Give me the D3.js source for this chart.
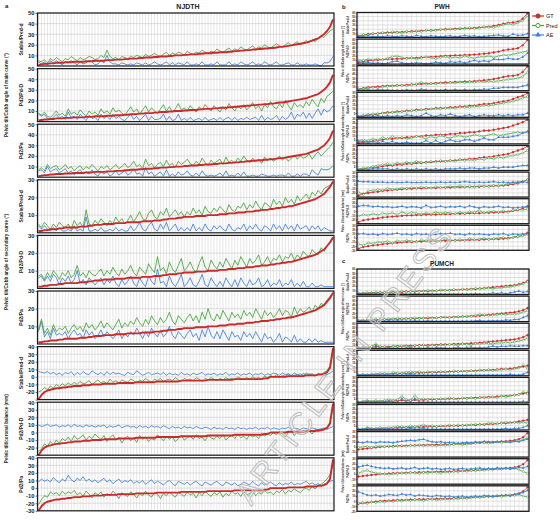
<!DOCTYPE html>
<html><head><meta charset="utf-8">
<script src="https://cdn.jsdelivr.net/npm/d3@7"></script>
<style>body{margin:0;background:#fff}svg{display:block}</style>
</head><body>
<svg id="c" width="560" height="520"></svg>
<script>
// ---------------- labels ----------------
const rowLabels = ["Stable/Pred-d", "Pd2/Pd-D", "Pd2/Pa"];
const groupLabels = ["Pelvic tilt/Cobb angle of main curve (°)", "Pelvic tilt/Cobb angle of secondary curve (°)", "Pelvic tilt/coronal balance (mm)"];
const datasetTitles = ["NJDTH", "PWH", "PUMCH"];
const panelLetters = ["a", "b", "c"];
const legendLabels = ["GT", "Pred", "AE"];

// ---------------- NJDTH ----------------
const njTicks1 = [10,20,30,40,50];
const njTicks2 = [10,20,30];
const njTicks3 = [-30,-20,-10,0,10,20,30,40];
const njGT1 = [1,1.5,2,2,2.5,2.5,3,3,3,3.5,
 3.5,3.5,4,4,4,4,4.5,4.5,4.5,5,
 5,5,5,5.5,5.5,5.5,6,6,6,6.5,
 6.5,7,7,7,7.5,7.5,8,8,8,8.5,
 8.5,9,9,9,9.5,9.5,10,10,10,10.5,
 10.5,11,11,11,11.5,11.5,12,12,12,12.5,
 12.5,13,13,13,13.5,13.5,14,14,14.5,14.5,
 15,15,15.5,15.5,16,16,16.5,16.5,17,17,
 17.5,18,18,18.5,19,19.5,20,20.5,21,21.5,
 22,23,24,25,26,28,30,33,37,44];
const njP11 = [5,4,6,3,7,5,8,6,4,7, 6,9,7,5,8,6,7,9,8,6, 7,10,8,15,9,7,8,6,9,8, 7,9,8,10,9,8,11,9,10,12, 10,9,11,13,10,12,11,13,12,10, 14,12,11,13,12,15,13,12,14,13, 16,14,13,15,17,14,16,15,18,16, 15,17,19,16,18,17,20,18,17,19, 21,19,18,20,22,19,21,23,20,22, 24,22,25,23,26,28,27,30,33,35];
const njA11 = [4,2,4,1,5,3,5,3,1,4, 3,5,3,1,4,2,3,5,4,1, 2,5,3,10,4,2,2,1,3,2, 1,2,1,3,2,1,3,1,2,4, 2,1,2,4,1,3,1,3,2,1, 4,1,1,2,1,4,1,1,2,1, 4,1,1,1,4,1,2,1,4,2, 1,2,4,1,2,1,4,2,1,2, 4,1,1,2,3,1,1,3,1,1, 2,1,1,2,1,0,3,3,4,9];
const njP12 = [8,6,9,5,4,7,10,6,8,5, 12,7,9,6,11,8,5,10,7,9, 6,12,8,10,7,13,9,11,8,6, 10,14,9,12,7,11,15,9,13,10, 8,12,16,10,14,9,12,17,11,13, 10,15,12,9,14,11,16,13,10,15, 12,9,14,11,17,13,10,15,12,16, 11,14,18,12,15,10,16,13,19,14, 12,17,13,20,15,11,18,14,16,13, 19,15,21,17,14,22,18,24,26,29];
const njA12 = [7,5,7,3,2,4,7,3,5,2, 9,4,5,2,7,4,1,6,3,4, 1,7,3,5,2,7,3,5,2,1, 4,7,2,5,1,4,7,1,5,2, 2,3,7,1,5,1,2,7,1,3, 1,4,1,2,3,1,4,1,2,3, 1,4,1,3,4,1,4,1,3,2, 4,2,3,4,1,6,1,4,2,3, 6,1,5,2,4,9,2,7,5,9, 3,8,3,8,12,6,12,9,11,15];
const njP13 = [7,9,6,12,8,10,11,7,9,12, 8,10,6,9,11,7,10,8,12,9, 6,10,8,11,7,9,12,8,10,13, 9,11,15,10,12,8,17,11,13,9, 12,14,10,16,11,13,9,15,12,14, 17,13,11,15,12,18,14,11,16,13, 15,17,12,19,14,16,13,18,15,20, 16,14,18,15,17,13,19,16,18,15, 17,20,16,19,15,18,21,17,20,18, 19,22,17,21,24,20,23,26,29,33];
const njA13 = [6,7,4,10,5,7,8,4,6,8, 4,6,2,5,7,3,5,3,7,3, 1,5,3,5,1,3,6,2,4,6, 2,4,8,3,4,1,9,3,5,1, 3,5,1,7,1,3,1,5,2,3, 6,2,1,4,1,6,2,1,2,1, 2,4,1,6,1,2,1,4,1,5, 1,1,2,1,1,3,2,1,1,2, 1,2,2,1,4,1,1,3,1,3, 3,1,7,4,2,8,7,7,8,11];
const njGT2 = [1,1,1.5,1.5,2,2,2,2.5,2.5,3,
 3,3,3,3,3.5,3.5,3.5,4,4,4.5,
 4.5,4.5,5,5,5,5,5.5,5.5,5.5,5.5,
 6,6,6,6,6,6.5,6.5,6.5,6.5,7,
 7,7,7.5,7.5,8,8,8,8.5,8.5,9,
 9,9,9,9.5,9.5,9.5,9.5,10,10,10,
 10,10.5,10.5,10.5,11,11,11,11.5,11.5,11.5,
 12,12,12,12.5,12.5,13,13,13,13.5,13.5,
 14,14,14.5,14.5,15,15,15.5,16,16.5,17,
 17.5,18,18.5,19,20,21,22,24,26,29];
const njP21 = [5,3,6,4,2,5,3,6,4,3, 5,2,7,4,6,3,13,5,4,7, 5,8,6,4,7,5,9,6,8,5, 7,10,6,9,12,8,7,11,13,9, 8,12,10,14,9,11,13,10,12,9, 12,10,14,11,13,10,15,12,11,14, 12,15,13,11,16,13,12,15,14,17, 13,16,14,18,15,13,17,16,14,19, 16,18,15,20,17,19,16,21,18,20, 22,19,23,21,24,22,25,26,27,28];
const njA21 = [4,2,4,2,1,3,1,3,1,1, 2,1,4,1,2,1,9,1,1,2, 1,3,1,1,2,1,3,1,2,1, 1,4,1,3,6,2,1,4,6,2, 1,5,2,6,1,3,5,1,3,1, 3,1,5,1,3,1,5,2,1,4, 2,4,2,1,5,2,1,3,2,5, 1,4,2,5,2,1,4,3,1,5, 2,4,1,5,2,4,1,5,2,3, 4,1,4,2,4,1,3,2,1,1];
const njP22 = [7,8,5,9,6,10,8,5,9,7, 10,6,8,13,7,9,6,10,8,7, 9,11,7,10,8,12,9,7,11,8, 10,13,9,7,12,10,8,14,11,9, 18,10,12,8,15,11,9,13,17,10, 12,15,11,9,14,18,12,10,16,13, 11,15,12,17,14,11,16,13,18,15, 12,17,14,16,19,13,15,18,14,17, 16,19,15,18,17,20,16,19,17,21, 19,18,22,20,19,23,21,24,26,28];
const njA22 = [6,7,4,7,4,8,6,2,6,4, 7,3,5,10,3,5,2,6,4,2, 4,6,2,5,3,7,3,1,5,2, 4,7,3,1,6,3,1,7,4,2, 11,3,4,1,7,3,1,4,8,1, 3,6,2,1,4,8,2,1,6,3, 1,4,1,6,3,1,5,1,6,3, 1,5,2,3,6,1,2,5,1,3, 2,5,1,3,2,5,1,3,1,4, 1,1,3,1,1,2,1,1,1,1];
const njP23 = [8,14,6,9,5,11,7,9,8,10, 6,9,11,8,10,7,12,9,11,8, 10,13,9,12,10,8,11,14,9,12, 10,13,11,15,12,10,14,11,16,13, 11,15,12,14,18,13,11,16,14,12, 15,17,13,16,12,18,14,20,15,13, 17,14,19,16,13,18,15,17,14,19, 16,18,15,20,17,14,19,16,18,15, 17,20,16,19,18,15,21,17,20,18, 19,21,18,22,20,23,22,25,27,29];
const njA23 = [7,13,4,7,3,9,5,6,5,7, 3,6,8,5,6,3,8,5,7,3, 5,8,4,7,5,3,5,8,3,6, 4,7,5,9,6,3,7,4,9,6, 4,8,4,6,10,5,3,7,5,3, 6,8,4,6,2,8,4,10,5,3, 7,3,8,5,2,7,4,5,2,7, 4,6,3,7,4,1,6,3,4,1, 3,6,1,4,3,1,5,1,3,1, 1,3,1,3,1,2,1,1,1,1];
const njGT3 = [-30,-24,-20,-18,-17,-16,-15,-15,-14,-14,
 -13,-13,-12,-12,-12,-11,-11,-11,-10,-10,
 -10,-10,-9,-9,-9,-9,-9,-8,-8,-8,
 -8,-8,-8,-7,-7,-7,-7,-7,-7,-7,
 -6,-6,-6,-6,-6,-6,-6,-6,-5,-5,
 -5,-5,-5,-5,-5,-5,-5,-4,-4,-4,
 -4,-4,-4,-4,-4,-4,-3,-3,-3,-3,
 -3,-3,-3,-3,-3,-3,-2,-2,0,0,
 0,0,0,0,1,1,1,1,1,1,
 2,2,2,2,3,3,4,6,12,38];
const njP31 = [-20,-18,-14,-17,-12,-15,-10,-13,-9,-12, -8,-11,-7,-10,-6,-9,-8,-5,-10,-7, -4,-8,-6,-9,-3,-7,-5,-8,-4,-6, -7,-3,-5,-8,-4,-6,-2,-5,-7,-3, -5,-2,-6,-4,-3,-5,-1,-4,-6,-2, -4,-3,-5,-1,-3,-6,-2,-4,-1,-3, -5,-2,-4,-1,-3,-2,-4,0,-2,-3, -1,-3,0,-2,-1,-3,1,-1,2,0, 3,-1,2,1,4,0,2,3,1,5, 2,4,3,1,5,3,6,8,15,30];
const njA31 = [7,6,5,7,4,6,3,5,2,6, 4,7,2,6,3,7,4,3,8,5, 3,6,2,7,3,6,4,5,3,2, 6,4,3,8,5,2,4,6,3,4, 5,3,6,2,5,3,4,2,6,3, 4,2,5,3,4,6,2,4,3,5, 2,4,3,6,2,4,3,5,2,4, 3,5,2,4,3,5,2,4,3,5, 4,2,5,3,4,2,5,3,4,2, 5,3,4,2,3,4,2,3,5,8];
const njP32 = [-25,-22,-15,-18,-12,-16,-10,-14,-8,-11, -6,-12,-4,-9,-7,-3,-10,-5,-8,-2, -6,-9,-4,-12,-7,-3,-10,-6,-14,-8, -5,-11,-7,-13,-4,-9,-6,-12,-8,-10, -3,-7,-11,-5,-9,-6,-12,-8,-4,-10, -7,-5,-9,-3,-8,-6,-11,-4,-7,-9, -5,-8,-3,-10,-6,-4,-8,-2,-7,-5, -9,-3,-6,-4,-8,-1,-5,-2,-4,0, -3,1,-2,-6,0,2,-4,1,-1,3, 0,2,-2,4,1,3,5,7,14,32];
const njA32 = [10,8,9,11,8,9,10,7,9,8, 10,7,11,8,9,7,10,8,9,7, 9,8,10,6,9,7,8,10,6,8, 9,7,8,6,9,7,8,6,9,7, 8,6,9,7,5,8,6,7,5,8, 6,7,5,8,6,5,7,6,4,7, 5,6,4,7,5,6,4,7,5,6, 4,6,5,7,4,6,5,7,4,6, 5,4,6,5,7,4,6,5,4,6, 5,4,6,5,4,5,6,4,6,8];
const njP33 = [-22,-15,-10,-12,-5,-8,-6,-10,-4,-8, -5,-7,-3,-9,-6,-11,-4,-8,-13,-6, -9,-5,-12,-7,-10,-4,-8,-14,-6,-9, -11,-5,-8,-13,-7,-10,-4,-9,-12,-6, -8,-14,-7,-10,-5,-9,-12,-6,-8,-11, -5,-9,-7,-13,-6,-10,-4,-8,-11,-6, -9,-5,-12,-7,-10,-4,-8,-6,-11,-5, -9,-7,-4,-10,-6,-8,-3,-7,-5,-9, -4,-6,-2,-8,-3,-5,-1,-4,-6,-2, 0,-3,2,-1,3,5,8,12,18,30];
const njA33 = [8,12,9,11,8,14,10,7,12,9, 17,11,8,13,10,15,9,12,8,11, 7,10,13,8,11,6,9,12,7,10, 8,11,6,9,7,10,5,8,11,6, 9,7,4,8,10,6,3,9,7,5, 8,4,7,9,5,3,8,6,4,7, 9,5,3,8,6,4,7,3,5,8, 6,4,9,5,3,7,4,6,8,5, 3,7,4,6,5,8,4,6,5,7, 9,5,7,4,6,3,5,7,9,10];

// ---------------- PWH ----------------
const pwTicks1 = [0,10,20,30,40,50,60];
const pwTicks2 = [0,5,10,15,20,25,30];
const pwTicks3 = [-30,-20,-10,0,10,20,30];
const pwGT1 = [4,6,8,9,10,11,12,12,13,13, 14,15,15,16,17,17,18,19,20,20, 21,21,22,22,23,24,25,26,28,30, 33,35,36,38,45,58];
const pwP11 = [3,7,6,10,9,12,10,14,12,11, 15,13,16,14,18,16,17,20,18,21, 19,23,20,24,21,22,26,25,24,27, 30,33,31,35,40,52];
const pwA11 = [3,2,4,2,3,2,4,3,2,4, 3,2,5,3,2,4,3,2,3,4, 2,3,5,3,4,2,3,4,5,6, 4,3,8,5,6,9];
const pwP12 = [10,9,12,11,13,10,14,18,20,16, 13,15,12,14,17,15,13,16,18,14, 17,15,19,16,14,18,17,20,16,19, 22,21,24,26,28,32];
const pwA12 = [6,3,4,2,3,1,2,6,7,3, 1,2,3,2,1,2,5,3,2,6, 4,6,3,6,9,6,8,6,12,11, 11,14,12,12,17,26];
const pwP13 = [4,5,6,8,7,9,10,11,12,13, 12,14,16,20,15,17,16,18,17,19, 18,20,19,21,20,22,21,23,22,24, 25,27,28,30,34,44];
const pwA13 = [2,2,3,1,3,2,2,1,1,1, 2,1,1,4,2,1,2,1,3,1, 3,1,3,1,3,2,4,3,6,6, 8,8,8,8,11,14];
const pwGT2 = [1,2,3,3,4,5,6,6,7,7, 8,8,9,9,10,10,11,11,11,12, 12,13,13,14,14,15,16,16,17,18, 19,20,22,24,26,29];
const pwP21 = [1,2,3,4,4,5,5,6,6,7, 7,8,8,9,9,10,10,10,11,11, 11,12,12,12,13,13,14,14,15,16, 17,18,19,21,23,25];
const pwA21 = [1,1,2,1,2,1,2,1,2,1, 3,2,1,2,5,2,1,3,2,4, 2,1,2,3,1,2,3,2,2,3, 2,3,2,3,3,5];
const pwP22 = [4,5,4,6,5,8,6,9,7,8, 6,7,9,8,6,9,7,10,8,7, 9,10,8,9,11,10,9,11,12,10, 11,12,13,14,13,14];
const pwA22 = [3,3,1,3,1,3,1,3,1,1, 2,1,1,1,4,1,4,1,3,5, 3,3,5,5,3,5,7,5,5,8, 8,8,9,10,13,15];
const pwP23 = [2,3,3,5,6,7,8,7,9,8, 10,9,11,10,9,11,10,12,11,12, 11,13,12,13,12,14,13,15,14,16, 15,17,18,19,21,24];
const pwA23 = [1,1,1,2,2,2,2,1,2,1, 2,1,2,1,2,1,2,1,2,2, 2,3,2,3,3,2,3,3,4,3, 4,4,4,5,6,6];
const pwGT3 = [-26,-22,-20,-18,-17,-15,-14,-13,-12,-11, -10,-10,-9,-9,-8,-8,-8,-7,-7,-7, -6,-6,-6,-5,-5,-5,-4,-4,-3,-3, -2,-1,1,3,6,12];
const pwP31 = [-18,-24,-15,-14,-12,-13,-9,-11,-10,-8, -9,-7,-8,-6,-7,-8,-5,-7,-6,-4, -6,-3,-5,-4,-6,-3,-4,-5,-2,-3, 0,2,4,5,8,11];
const pwA31 = [8,7,7,6,6,6,5,6,5,5, 6,5,5,5,6,5,5,6,5,6, 5,6,7,6,5,6,5,6,7,5, 6,5,6,6,7,5];
const pwP32 = [-12,-8,-10,-6,-9,-5,-7,-4,-8,-2, -6,-3,-5,-7,-4,-6,-2,-5,-3,-4, -6,-2,-5,-1,-3,2,-4,-1,0,-2, 1,-3,2,4,3,5];
const pwA32 = [12,14,13,11,12,10,11,9,10,12, 9,11,10,8,14,9,10,12,9,11, 10,12,9,13,10,8,11,9,10,12, 9,10,8,9,10,11];
const pwP33 = [-15,-18,-12,-14,-10,-11,-8,-12,-7,-9, -6,-8,-10,-5,-7,-4,-6,-8,-3,-5, -7,-4,-6,-2,-5,-3,-1,-4,-2,0, 1,-3,2,3,5,8];
const pwA33 = [9,10,8,9,7,10,8,9,11,8, 9,7,10,8,9,7,8,10,9,11, 8,9,7,10,8,9,8,7,9,8, 10,6,9,8,9,10];

// ---------------- PUMCH ----------------
const puTicks1 = [0,10,20,30,40,50,60];
const puTicks2 = [0,5,10,15,20,25,30];
const puTicks3 = [-20,-10,0,10,20,30];
const puGT1 = [2,3,3,4,4,5,5,5,6,6, 6,7,7,7,8,8,8,9,9,10, 10,10,11,11,12,12,13,13,14,15, 16,17,18,19,20,21,22,24,27,32];
const puP11 = [4,2,5,3,6,4,5,7,5,6, 8,6,7,9,7,8,10,8,9,11, 10,9,12,10,13,11,12,15,13,14, 15,13,16,15,18,17,20,22,25,30];
const puA11 = [2,1,2,1,2,1,1,2,1,1, 2,1,1,2,1,1,2,1,1,1, 1,1,1,1,1,1,1,2,1,1, 1,4,2,4,2,4,6,8,5,7];
const puP12 = [3,4,2,5,6,4,5,7,6,8, 7,6,8,9,7,8,10,8,9,10, 11,9,10,12,11,13,12,15,17,16, 14,15,16,17,16,18,17,19,22,26];
const puA12 = [1,1,1,1,2,1,1,2,1,2, 1,1,1,2,1,1,2,1,1,1, 1,1,1,1,1,1,1,2,3,1, 2,2,2,2,4,3,5,5,10,14];
const puP13 = [2,3,4,5,12,4,5,3,6,5, 7,6,5,8,7,9,6,8,7,9, 8,10,9,8,11,10,9,12,11,13, 12,11,14,13,15,14,16,18,20,25];
const puA13 = [1,1,1,1,8,1,1,3,1,2, 1,2,3,1,2,1,3,1,3,2, 2,1,2,4,1,3,4,2,3,2, 4,6,4,6,5,7,6,6,7,7];
const puGT2 = [0.5,1,1,1.5,1.5,2,2,2,2.5,2.5, 3,3,3,3.5,3.5,3.5,4,4,4,4.5, 4.5,5,5,5,5.5,5.5,6,6,6.5,6.5, 7,7,7.5,8,8,8.5,9,10,11,12];
const puP21 = [1,2,1,2,2,3,3,2,4,3, 3,4,5,4,5,3,5,4,5,5, 5,4,6,5,6,5,6,5,7,6, 7,6,7,7,8,7,8,9,13,8];
const puA21 = [1,1,1,1,1,1,1,1,1,1, 1,1,2,1,1,1,1,1,1,1, 1,1,1,1,1,1,1,1,1,1, 1,1,1,1,1,2,1,1,2,4];
const puP22 = [1,2,3,2,3,2,3,4,3,4, 8,4,3,9,4,5,4,5,4,5, 5,6,5,4,6,5,6,5,6,7, 6,7,6,8,7,8,9,10,13,11];
const puA22 = [1,1,2,1,1,1,1,2,1,1, 5,1,1,5,1,1,1,1,1,1, 1,1,1,1,1,1,1,1,1,1, 1,1,1,1,1,1,1,1,2,1];
const puP23 = [1,1,3,2,2,3,2,3,3,4, 4,3,5,4,5,6,5,5,4,5, 5,6,5,6,5,6,6,7,6,7, 8,8,7,8,9,8,9,8,9,8];
const puA23 = [1,1,2,1,1,1,1,1,1,1, 1,1,2,1,1,2,1,1,1,1, 1,1,1,1,1,1,1,1,1,1, 1,1,1,1,2,1,2,2,3,5];
const puGT3 = [-5,-4,-3,-2,-1,0,0.5,1,1.5,2, 2,2.5,3,3,3.5,3.5,4,4,4.5,4.5, 5,5,5.5,6,6,6.5,7,7.5,8,8.5, 9,9.5,10,10.5,11,12,13,15,19,27];
const puP31 = [-1,0,1,-1,1,2,1,2,0,2, 3,1,3,2,4,2,3,3,2,4, 3,4,5,6,4,5,6,7,9,8, 7,8,9,8,10,9,11,12,14,18];
const puA31 = [9,8,10,9,8,10,9,9,8,10, 11,12,13,12,14,15,12,10,9,10, 8,9,8,7,8,9,8,10,9,11, 10,9,10,11,10,9,11,10,13,15];
const puP32 = [2,5,7,4,2,1,0,-1,0,1, 2,1,3,2,1,3,2,4,3,2, 4,3,5,4,6,5,7,6,8,7, 9,8,10,9,11,10,12,8,5,1];
const puA32 = [14,16,17,15,13,12,11,12,10,11, 12,10,11,13,10,11,12,10,11,9, 10,11,9,10,11,9,10,11,12,10, 11,10,12,11,12,10,11,13,12,15];
const puP33 = [-4,-3,-5,-2,-3,-1,-2,0,-1,1, 0,2,1,3,2,1,3,4,2,3, 4,3,5,4,6,5,6,8,7,9, 10,8,11,9,10,12,11,13,10,8];
const puA33 = [18,15,12,11,12,10,11,13,12,11, 14,12,13,10,12,11,10,9,11,10, 9,10,8,9,10,8,9,10,9,11, 10,9,10,11,12,10,13,14,17,21];

// ---------------- drawing ----------------
const FONT = '"Liberation Sans", Arial, Helvetica, sans-serif';
const RED = "#cc2a2a", GREEN = "#44a03a", BLUE = "#3f7fd3";
const svg = d3.select("#c");

function panel(o) {
  const n = o.gt.length;
  const x = d3.scaleLinear().domain([0, n - 1]).range([o.x0 + o.pad, o.x1 - o.pad]);
  const y = d3.scaleLinear().domain(o.domain).range([o.y0 + o.h, o.y0]);
  const g = svg.append("g");
  g.append("rect").attr("x", o.x0).attr("y", o.y0).attr("width", o.x1 - o.x0).attr("height", o.h).attr("fill", "#fff");
  g.append("g").selectAll("line").data(d3.range(n)).join("line")
    .attr("x1", d => x(d)).attr("x2", d => x(d)).attr("y1", o.y0).attr("y2", o.y0 + o.h)
    .attr("stroke", "#d2d2d2").attr("stroke-width", o.vgw);
  g.append("g").selectAll("line").data(o.ticks).join("line")
    .attr("x1", o.x0).attr("x2", o.x1).attr("y1", d => y(d)).attr("y2", d => y(d))
    .attr("stroke", "#cacaca").attr("stroke-width", 0.6);
  const labelVals = o.last ? o.ticks : o.ticks.filter(t => y(t) < o.y0 + o.h - 1);
  const ax = g.append("g").attr("transform", `translate(${o.x0},0)`)
    .call(d3.axisLeft(y).tickValues(o.ticks).tickSize(o.tickLen).tickPadding(o.tickPad)
      .tickFormat(t => labelVals.includes(t) ? t : ""));
  ax.select(".domain").remove();
  ax.selectAll("line").attr("stroke", "#222").attr("stroke-width", 0.6);
  ax.selectAll("text").attr("font-size", o.fs).attr("font-weight", "bold")
    .attr("font-family", FONT).attr("fill", "#222");
  const line = d3.line().x((d, i) => x(i)).y(d => y(d));
  const series = o.markers
    ? [[o.gt, RED, "gt"], [o.pred, GREEN, "pred"], [o.ae, BLUE, "ae"]]
    : [[o.ae, BLUE, "ae"], [o.pred, GREEN, "pred"], [o.gt, RED, "gt"]];
  series.forEach(([data, col, key]) => {
    g.append("path").datum(data).attr("d", line).attr("fill", "none").attr("stroke", col)
      .attr("stroke-width", key === "gt" ? o.gtw : o.lw).attr("stroke-linejoin", "round");
    if (o.markers) {
      if (key === "ae") {
        g.append("g").selectAll("path").data(data).join("path")
          .attr("d", d3.symbol(d3.symbolTriangle, 3.2))
          .attr("transform", (d, i) => `translate(${x(i)},${y(d)})`).attr("fill", col);
      } else {
        g.append("g").selectAll("circle").data(data).join("circle")
          .attr("cx", (d, i) => x(i)).attr("cy", d => y(d)).attr("r", 0.95)
          .attr("fill", key === "gt" ? col : "#fff").attr("stroke", col).attr("stroke-width", 0.45);
      }
    }
  });
  g.append("rect").attr("x", o.x0).attr("y", o.y0).attr("width", o.x1 - o.x0).attr("height", o.h)
    .attr("fill", "none").attr("stroke", "#1c1c1c").attr("stroke-width", o.fw);
  g.append("text").attr("transform", `translate(${o.rlx},${o.y0 + o.h / 2}) rotate(-90)`)
    .attr("text-anchor", "middle").attr("font-size", o.rfs).attr("font-weight", "bold")
    .attr("font-family", FONT).attr("fill", "#222").text(o.rowLabel);
}

function text(x, y, s, fs, anchor) {
  svg.append("text").attr("x", x).attr("y", y).attr("font-size", fs)
    .attr("font-weight", "bold").attr("font-family", FONT).attr("fill", "#222")
    .attr("text-anchor", anchor || "start").text(s);
}
function vtext(x, y, s, fs) {
  svg.append("text").attr("transform", `translate(${x},${y}) rotate(-90)`)
    .attr("text-anchor", "middle").attr("font-size", fs).attr("font-weight", "bold")
    .attr("font-family", FONT).attr("fill", "#222").text(s);
}

const datasets = [
  { groups: [
      { gt: njGT1, domain: [0, 50], ticks: njTicks1, rows: [[njP11, njA11], [njP12, njA12], [njP13, njA13]] },
      { gt: njGT2, domain: [0, 30], ticks: njTicks2, rows: [[njP21, njA21], [njP22, njA22], [njP23, njA23]] },
      { gt: njGT3, domain: [-30, 40], ticks: njTicks3, rows: [[njP31, njA31], [njP32, njA32], [njP33, njA33]] } ],
    x0: 37.5, x1: 334, top: 13, pitch: 55.6, h: 53, markers: false,
    pad: 1, vgw: 0.55, gtw: 1.9, lw: 0.85, fw: 1.2, fs: 5.8, tickLen: 2, tickPad: 1,
    rlx: 23, rfs: 5, glx: 8, gfs: 4.6, title: [188, 9], letter: [5, 8], tfs: 7 },
  { groups: [
      { gt: pwGT1, domain: [0, 60], ticks: pwTicks1, rows: [[pwP11, pwA11], [pwP12, pwA12], [pwP13, pwA13]] },
      { gt: pwGT2, domain: [0, 30], ticks: pwTicks2, rows: [[pwP21, pwA21], [pwP22, pwA22], [pwP23, pwA23]] },
      { gt: pwGT3, domain: [-30, 30], ticks: pwTicks3, rows: [[pwP31, pwA31], [pwP32, pwA32], [pwP33, pwA33]] } ],
    x0: 357, x1: 529, top: 12.5, pitch: 26.6, h: 25, markers: true,
    pad: 1.5, vgw: 0.5, gtw: 0.8, lw: 0.8, fw: 1.3, fs: 2.8, tickLen: 1.2, tickPad: 0.5,
    rlx: 349.3, rfs: 2.8, glx: 344.3, gfs: 2.8, title: [442, 9], letter: [342, 9], tfs: 6.5 },
  { groups: [
      { gt: puGT1, domain: [0, 60], ticks: puTicks1, rows: [[puP11, puA11], [puP12, puA12], [puP13, puA13]] },
      { gt: puGT2, domain: [0, 30], ticks: puTicks2, rows: [[puP21, puA21], [puP22, puA22], [puP23, puA23]] },
      { gt: puGT3, domain: [-20, 30], ticks: puTicks3, rows: [[puP31, puA31], [puP32, puA32], [puP33, puA33]] } ],
    x0: 357, x1: 529, top: 269, pitch: 27.1, h: 25.5, markers: true,
    pad: 1.5, vgw: 0.5, gtw: 0.8, lw: 0.8, fw: 1.3, fs: 2.8, tickLen: 1.2, tickPad: 0.5,
    rlx: 349.3, rfs: 2.8, glx: 344.3, gfs: 2.8, title: [442, 266], letter: [342, 263], tfs: 6.5 }
];

// watermark (drawn beneath titles so they stay readable)
const wm = svg.append("g");

datasets.forEach((ds, di) => {
  ds.groups.forEach((grp, gi) => {
    grp.rows.forEach(([pred, ae], ri) => {
      const k = gi * 3 + ri;
      panel(Object.assign({}, ds, {
        y0: ds.top + k * ds.pitch, gt: grp.gt, pred, ae, domain: grp.domain, ticks: grp.ticks,
        rowLabel: rowLabels[ri], last: k === 8
      }));
    });
    const gy0 = ds.top + gi * 3 * ds.pitch;
    const gy1 = gy0 + 2 * ds.pitch + ds.h;
    vtext(ds.glx, (gy0 + gy1) / 2, groupLabels[gi], ds.gfs);
  });
});

svg.append("text").attr("transform", "translate(347,366) rotate(-53)")
  .attr("text-anchor", "middle").attr("dominant-baseline", "middle")
  .attr("font-size", 31).attr("font-family", FONT).attr("letter-spacing", 3.5)
  .attr("fill", "rgba(255,255,255,0.3)").attr("stroke", "#bdbdbd").attr("stroke-width", 1)
  .text("ARTICLE IN PRESS");

datasets.forEach((ds, di) => {
  text(ds.title[0], ds.title[1], datasetTitles[di], ds.tfs, "middle");
  text(ds.letter[0], ds.letter[1], panelLetters[di], 6, "start");
});

// legend
const leg = svg.append("g").attr("transform", "translate(532,16)");
[[RED, "gt"], [GREEN, "pred"], [BLUE, "ae"]].forEach(([col, key], i) => {
  const yy = i * 9.5;
  leg.append("line").attr("x1", 0).attr("x2", 12).attr("y1", yy).attr("y2", yy).attr("stroke", col).attr("stroke-width", 1.2);
  if (key === "ae") {
    leg.append("path").attr("d", d3.symbol(d3.symbolTriangle, 13)).attr("transform", `translate(6,${yy})`).attr("fill", col);
  } else {
    leg.append("circle").attr("cx", 6).attr("cy", yy).attr("r", 2.1)
      .attr("fill", key === "gt" ? col : "#fff").attr("stroke", col).attr("stroke-width", 1);
  }
  leg.append("text").attr("x", 14).attr("y", yy + 2).attr("font-size", 5.5).attr("font-family", FONT)
    .attr("fill", "#222").text(legendLabels[i]);
});
</script>
</body></html>
